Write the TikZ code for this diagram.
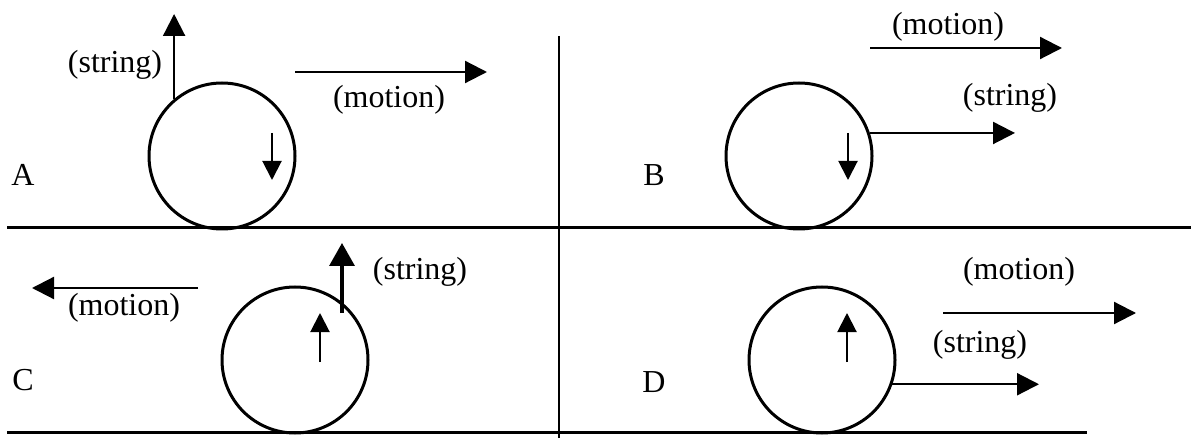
\documentclass[tikz,border=0pt]{standalone}
\usepackage{fontspec}
\setmainfont{Liberation Serif}
\usetikzlibrary{arrows.meta}
\begin{document}
\begin{tikzpicture}[x=1pt,y=-1pt,
  wheel/.style={circle,draw,line width=3pt,minimum size=146pt,inner sep=0pt},
  lbl/.style={font=\fontsize{32}{36}\selectfont,inner sep=0pt},
  bigarr/.style={line width=2.2pt,-{Triangle[length=22pt,width=22pt]}},
  thickarr/.style={line width=3.4pt,-{Triangle[length=23pt,width=25pt]}},
  smallarr/.style={line width=2pt,-{Triangle[length=19pt,width=19pt]}},
  ground/.style={line width=3pt},
  divider/.style={line width=1.8pt}]
\useasboundingbox (0,0) rectangle (1191,438);
% ground lines and divider
\coordinate (g1l) at (7,228);
\coordinate (g1r) at (1191,228);
\coordinate (g2l) at (7,432);
\coordinate (g2r) at (1087,432);
\coordinate (dvt) at (559,36);
\coordinate (dvb) at (559,438);
\draw[ground] (g1l) -- (g1r);
\draw[ground] (g2l) -- (g2r);
\draw[divider] (dvt) -- (dvb);
% wheels
\node[wheel] (ca) at (222,156) {};
\node[wheel] (cb) at (799,156) {};
\node[wheel] (cc) at (295,360) {};
\node[wheel] (cd) at (822,360) {};
% panel labels
\node[lbl] (la) at (23,175) {A};
\node[lbl] (lb) at (654,175) {B};
\node[lbl] (lc) at (23,380) {C};
\node[lbl] (ld) at (654,382) {D};
% texts
\node[lbl] (tas) at (115,65) {(string)};
\node[lbl] (tam) at (389,100) {(motion)};
\node[lbl] (tbm) at (948,27) {(motion)};
\node[lbl] (tbs) at (1010,98) {(string)};
\node[lbl] (tcs) at (420,272) {(string)};
\node[lbl] (tcm) at (124,308) {(motion)};
\node[lbl] (tdm) at (1019,272) {(motion)};
\node[lbl] (tds) at (980,345) {(string)};
% panel A
\coordinate (aS) at (175,14);
\draw[bigarr] (ca.130) -- (ca.130 |- aS);
\coordinate (aM1) at (295,72);
\coordinate (aM2) at (487,72);
\draw[bigarr] (aM1) -- (aM2);
\coordinate (aI1) at (272,133);
\coordinate (aI2) at (272,180);
\draw[smallarr] (aI1) -- (aI2);
% panel B
\coordinate (bM1) at (870,48);
\coordinate (bM2) at (1062,48);
\draw[bigarr] (bM1) -- (bM2);
\coordinate (bS) at (1015,133);
\draw[bigarr] (cb.18) -- (cb.18 -| bS);
\coordinate (bI1) at (848,133);
\coordinate (bI2) at (848,180);
\draw[smallarr] (bI1) -- (bI2);
% panel C
\coordinate (cM1) at (198,288);
\coordinate (cM2) at (32,288);
\draw[bigarr] (cM1) -- (cM2);
\coordinate (cS1) at (342,313);
\coordinate (cS2) at (342,243);
\draw[thickarr] (cS1) -- (cS2);
\coordinate (cI1) at (320,362);
\coordinate (cI2) at (320,313);
\draw[smallarr] (cI1) -- (cI2);
% panel D
\coordinate (dM1) at (943,313);
\coordinate (dM2) at (1136,313);
\draw[bigarr] (dM1) -- (dM2);
\coordinate (dS) at (1039,384);
\draw[bigarr] (cd.-19) -- (cd.-19 -| dS);
\coordinate (dI1) at (847,362);
\coordinate (dI2) at (847,313);
\draw[smallarr] (dI1) -- (dI2);
\end{tikzpicture}
\end{document}
